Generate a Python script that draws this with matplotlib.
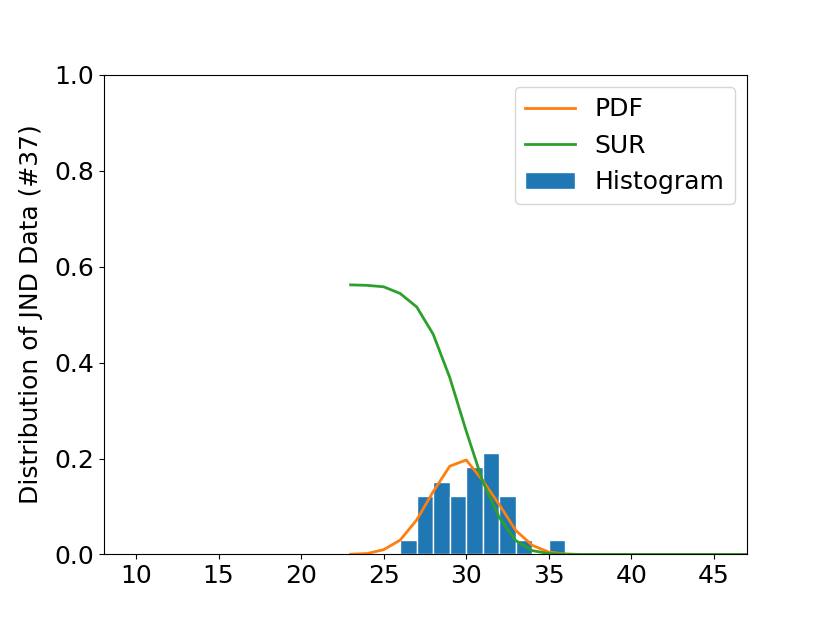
import numpy as np
import matplotlib
matplotlib.use("Agg")
import matplotlib.pyplot as plt

# JND values (x axis) where the fitted curves are evaluated
x_fit = np.arange(23, 48)
pdf_vals = [0.0005, 0.002, 0.010, 0.030, 0.072, 0.131, 0.184, 0.197, 0.154,
            0.104, 0.050, 0.019, 0.005, 0.001, 0.0, 0.0, 0.0, 0.0, 0.0,
            0.0, 0.0, 0.0, 0.0, 0.0, 0.0]
sur_vals = [0.562, 0.561, 0.558, 0.544, 0.516, 0.459, 0.369, 0.257, 0.152,
            0.077, 0.029, 0.008, 0.002, 0.0005, 0.0, 0.0, 0.0, 0.0, 0.0,
            0.0, 0.0, 0.0, 0.0, 0.0, 0.0]

# histogram (bin left edges, normalised counts out of 33 subjects)
bin_left = np.arange(26, 36)
counts = np.array([1, 4, 5, 4, 6, 7, 4, 1, 0, 1])
hist_vals = counts / counts.sum()

plt.rcParams['font.size'] = 18
fig, ax = plt.subplots(figsize=(8.3, 6.23), dpi=100)

ax.plot(x_fit, pdf_vals, color='#ff7f0e', lw=2, label='PDF')
ax.plot(x_fit, sur_vals, color='#2ca02c', lw=2, label='SUR')
ax.bar(bin_left, hist_vals, width=1, align='edge', color='#1f77b4',
       edgecolor='white', linewidth=1, label='Histogram')

ax.set_xlim(8.05, 47)
ax.set_ylim(0, 1.0)
ax.set_xticks(range(10, 46, 5))
ax.set_yticks(np.arange(0, 1.01, 0.2))
ax.set_ylabel('Distribution of JND Data (#37)', labelpad=8)
ax.legend(loc='upper right')

fig.savefig('out.png')
